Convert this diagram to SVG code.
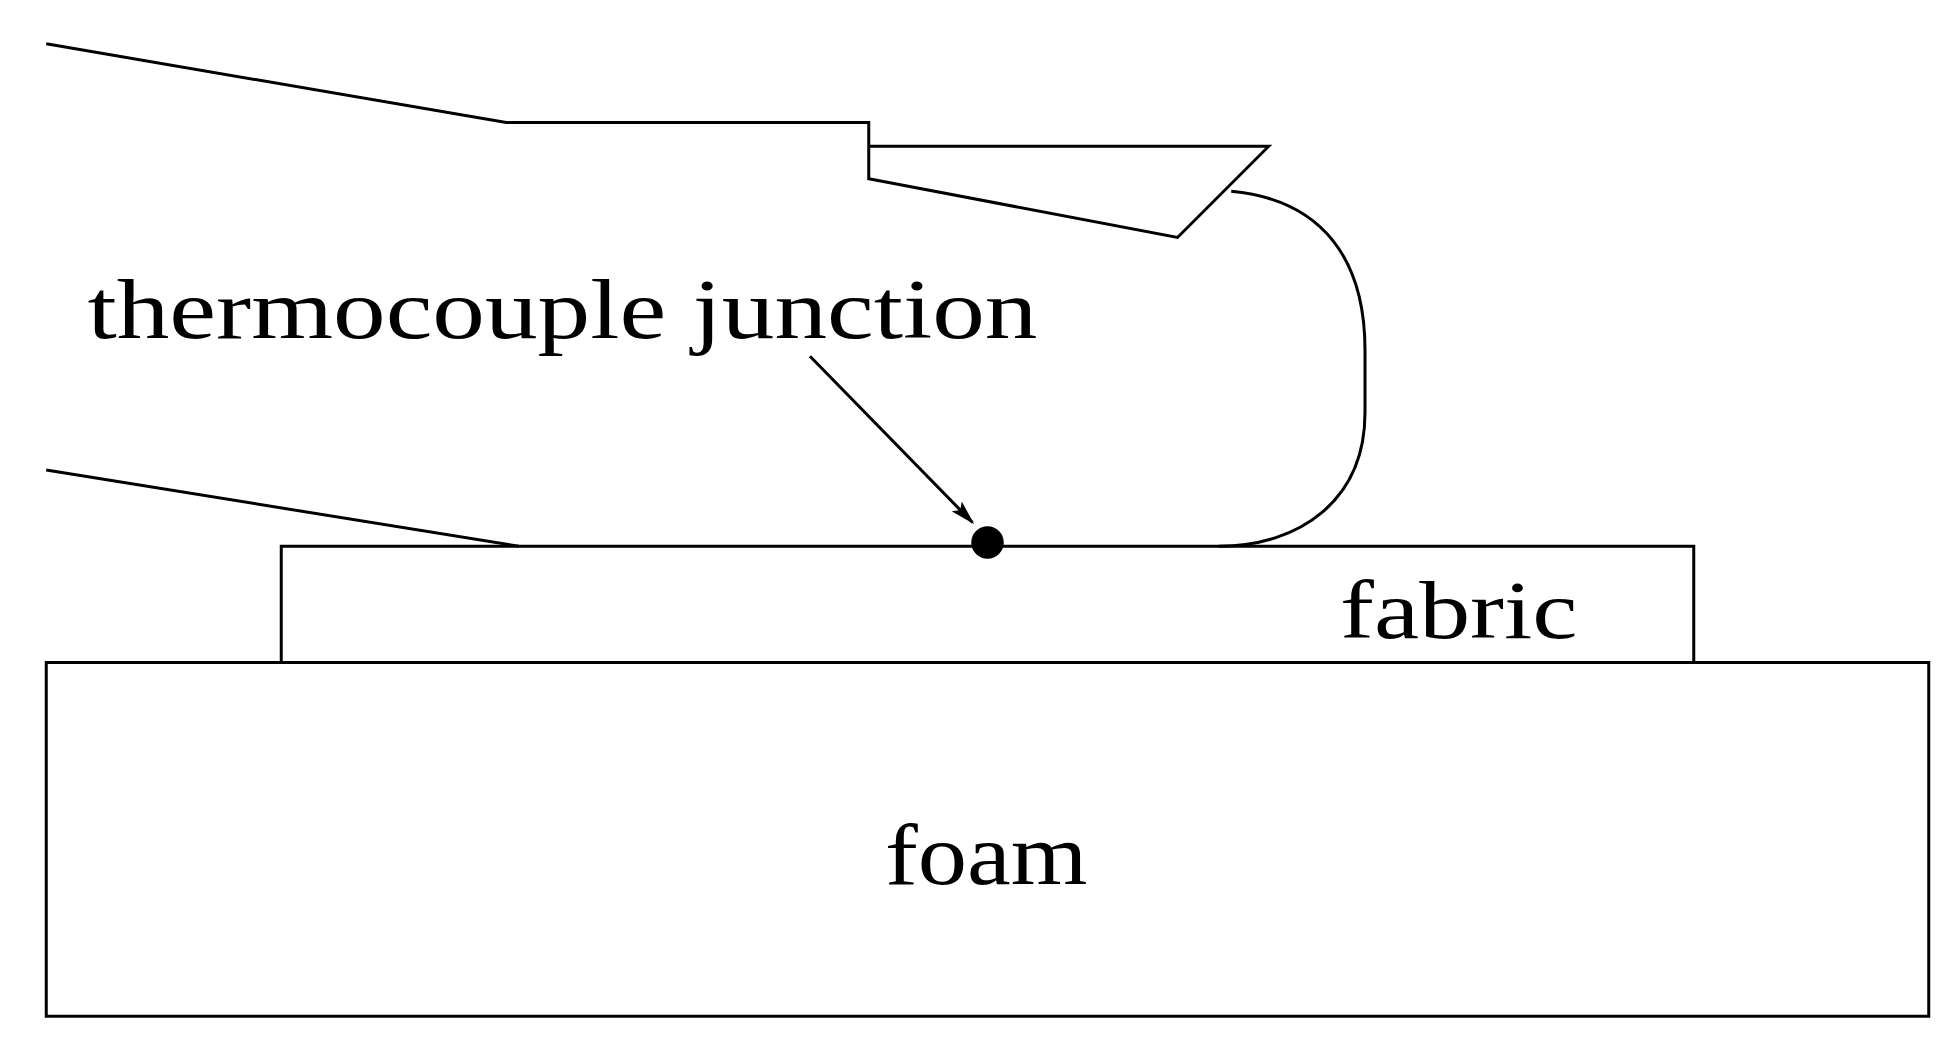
<svg xmlns="http://www.w3.org/2000/svg" width="1960" height="1055" viewBox="0 0 1960 1055">
<style>
.l{fill:none;stroke:#000;stroke-width:2.4}
.t{font-family:"Liberation Serif",serif;fill:#000}
</style>
<defs><marker id="ah" viewBox="0 0 10 10" refX="9" refY="5" markerWidth="20" markerHeight="14" orient="auto" markerUnits="userSpaceOnUse" preserveAspectRatio="none"><path d="M0,1 L10,5 L0,9 L2,5 z" fill="#000"/></marker></defs>
<rect width="1960" height="1055" fill="#fff"/>
<g transform="scale(1.25)">
<g id="foam"><rect class="l" x="37" y="530" width="1506" height="283"/><text class="t" x="708" y="707" font-size="70" textLength="162" lengthAdjust="spacingAndGlyphs">foam</text></g>
<g id="fabric"><path class="l" d="M225,530 V437 H1355 V530"/><text class="t" x="1072" y="510" font-size="66" textLength="190" lengthAdjust="spacingAndGlyphs">fabric</text></g>
<g id="wire"><path class="l" d="M37,35 L405,98 H695 V143 L942,190 L1015,117 H695"/><path class="l" d="M37,376 L415,437"/><path class="l" d="M985,153 C1060,160 1092,210 1092,280 V330 C1092,400 1040,437 975,437"/></g>
<g id="junction"><circle cx="790" cy="434" r="13" fill="#000"/><text class="t" x="70" y="270" font-size="68" textLength="760" lengthAdjust="spacingAndGlyphs">thermocouple junction</text></g>
<g id="connectors"><line class="l" x1="648" y1="285" x2="778" y2="418" stroke-width="2" marker-end="url(#ah)"/></g>
</g>
</svg>
